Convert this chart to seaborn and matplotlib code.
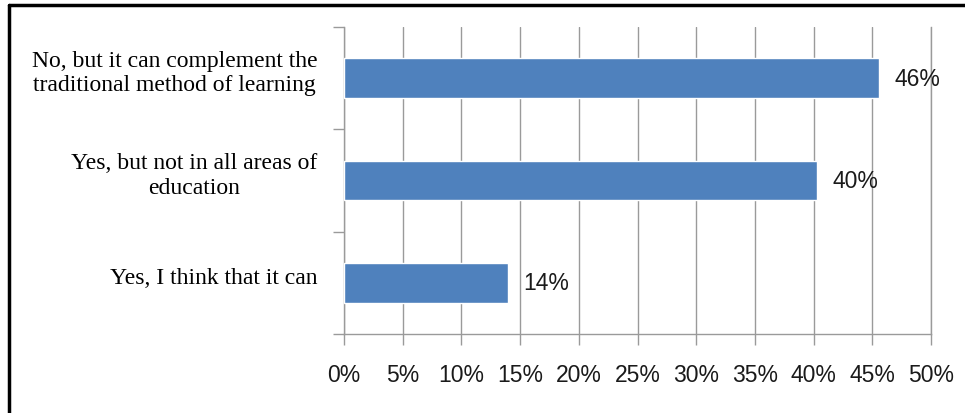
import matplotlib
matplotlib.use("Agg")
import matplotlib.pyplot as plt
import seaborn as sns
import pandas as pd
from matplotlib.lines import Line2D

categories = [
    "No, but it can complement the\ntraditional method of learning",
    "Yes, but not in all areas of\neducation",
    "Yes, I think that it can",
]
values = [45.6, 40.3, 14.0]
value_labels = ["46%", "40%", "14%"]
xticks = [0, 5, 10, 15, 20, 25, 30, 35, 40, 45, 50]
xtick_labels = ["0%", "5%", "10%", "15%", "20%", "25%", "30%", "35%", "40%", "45%", "50%"]

df = pd.DataFrame({"category": categories, "value": values})

sns.set_style("white")
fig = plt.figure(figsize=(9.65, 4.14), dpi=100)
ax = fig.add_axes([344 / 965, 1 - 335 / 414, (931 - 344) / 965, (335 - 28) / 414])

sns.barplot(data=df, y="category", x="value", orient="h", color="#4F81BD",
            saturation=1, width=0.39, ax=ax, zorder=3)

ax.set_xlim(0, 50)
ax.set_ylim(2.5, -0.5)
ax.set_xticks(xticks)
ax.set_xticklabels(xtick_labels, fontsize=16.5, family=["Liberation Sans"], color="#1a1a1a")
ax.xaxis.grid(True, color="#9a9a9a", linewidth=1, zorder=0)
ax.yaxis.grid(False)
ax.set_xlabel("")
ax.set_ylabel("")

# y labels
ax.set_yticks([0, 1, 2])
ax.set_yticklabels([])
for i, c in enumerate(categories):
    ax.annotate(c, xy=(0, i), xytext=(-19, 4), textcoords="offset points",
                ha="right", va="center", multialignment="center",
                fontsize=17, family=["Liberation Serif"], color="#000000",
                linespacing=1.2)
ax.set_yticks([-0.5, 0.5, 1.5, 2.5], minor=True)
ax.tick_params(axis="y", which="major", length=0)
ax.tick_params(axis="y", which="minor", length=8, color="#9a9a9a", width=1, direction="out", left=True)
ax.tick_params(axis="x", which="major", length=8, color="#9a9a9a", width=1, direction="out",
               bottom=True, pad=13)

ax.spines["top"].set_visible(False)
for s in ["left", "bottom", "right"]:
    ax.spines[s].set_visible(True)
    ax.spines[s].set_color("#9a9a9a")
    ax.spines[s].set_linewidth(1)

for i, (v, lab) in enumerate(zip(values, value_labels)):
    ax.annotate(lab, xy=(v, i), xytext=(11, 0), textcoords="offset points",
                ha="left", va="center", fontsize=16.5, family=["Liberation Sans"], color="#1a1a1a")

# outer frame (top and left)
fig.add_artist(Line2D([9 / 965, 1.0], [1 - 6 / 414, 1 - 6 / 414], transform=fig.transFigure,
                      color="black", linewidth=2.5))
fig.add_artist(Line2D([9 / 965, 9 / 965], [0, 1 - 6 / 414], transform=fig.transFigure,
                      color="black", linewidth=2.5))

fig.savefig("out.png", dpi=100)
